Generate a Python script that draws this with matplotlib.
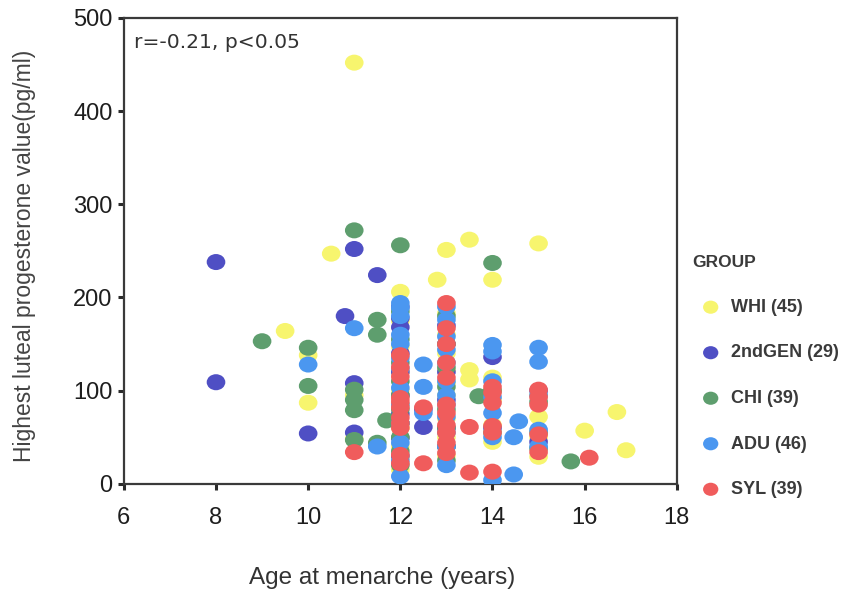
import numpy as np
import matplotlib
matplotlib.use("Agg")
import matplotlib.pyplot as plt
from matplotlib.path import Path
from matplotlib.transforms import Affine2D

plt.rcParams['font.family'] = ['Liberation Sans', 'DejaVu Sans']

groups = ["WHI (45)", "2ndGEN (29)", "CHI (39)", "ADU (46)", "SYL (39)"]
colors = ["#f7f56e", "#4f4fc4", "#5e9e6e", "#4b97f0", "#f05c5c"]

whi_x = [11, 10.5, 9.5, 10, 10, 13, 13.5, 12.8, 14, 15, 12, 12, 13, 13, 13, 13.5, 13.5, 14, 14, 14,
         15, 15, 16, 16.7, 16.9,
         12, 12, 12, 12, 12, 12, 13, 13, 13, 13, 13, 12, 14, 14, 15, 15, 11, 11, 12, 13]
whi_y = [452, 247, 164, 138, 87, 251, 262, 219, 219, 258, 206, 147, 183, 122, 95, 122, 112, 114, 63, 45,
         72, 29, 57, 77, 36,
         100, 85, 60, 40, 120, 175, 140, 160, 70, 50, 30, 28, 100, 90, 95, 50, 95, 48, 15, 108]

gen_x = [8, 8, 10, 11, 11.5, 10.8, 11, 11, 12, 12, 12, 12.5, 14,
         12, 12, 12, 12, 12, 12, 13, 13, 13, 13, 13, 13, 14, 15, 15, 12.5]
gen_y = [238, 109, 54, 252, 224, 180, 108, 55, 178, 168, 49, 61, 136,
         120, 95, 75, 30, 190, 140, 170, 150, 90, 60, 40, 120, 60, 45, 100, 80]

chi_x = [11, 12, 11.5, 11.5, 9, 10, 10, 11, 11, 11, 11, 11.5, 11.7, 12, 13, 13.7, 14, 15, 15.7,
         12, 12, 12, 12, 12, 12, 12, 12, 13, 13, 13, 13, 13, 13, 13, 14, 14, 15, 15, 12]
chi_y = [272, 256, 176, 160, 153, 146, 105, 101, 90, 79, 47, 44, 68, 155, 104, 94, 237, 88, 24,
         130, 110, 95, 80, 65, 50, 35, 20, 180, 150, 125, 80, 60, 40, 25, 100, 55, 55, 38, 185]

adu_x = [10, 11, 11.5, 12, 12, 12, 12, 12, 12, 12.5, 12.5, 12.5, 13, 13, 13, 13, 13, 13,
         14, 14, 14, 14, 14, 14, 14.57, 14.46, 14.46, 15, 15, 15, 15,
         12, 12, 12, 12, 12, 12, 13, 13, 13, 13, 13, 13, 15, 14, 12]
adu_y = [128, 167, 40, 194, 189, 124, 103, 44, 8, 128, 104, 76, 176, 158, 144, 72, 55, 20,
         149, 142, 93, 76, 50, 4, 67, 50, 10, 146, 131, 58, 40,
         180, 160, 135, 85, 65, 25, 130, 110, 95, 85, 40, 190, 95, 110, 150]

syl_x = [11, 12, 12, 12, 12, 12, 12, 12, 12, 12.5, 12.5, 13, 13, 13, 13, 13, 13, 13, 13, 13,
         13.5, 13.5, 14, 14, 14, 14, 14, 15, 15, 15, 15, 15, 16.1,
         12, 12, 13, 13, 12, 14]
syl_y = [34, 138, 115, 92, 82, 71, 60, 31, 22, 82, 22, 194, 167, 130, 114, 85, 76, 63, 44, 33,
         61, 12, 104, 98, 87, 55, 13, 101, 93, 85, 53, 34, 28,
         88, 65, 55, 150, 125, 62]

xs = [whi_x, gen_x, chi_x, adu_x, syl_x]
ys = [whi_y, gen_y, chi_y, adu_y, syl_y]

# slightly wide ellipse marker
circ = Path.unit_circle()
ell = Path(Affine2D().scale(1.0, 0.86).transform(circ.vertices), circ.codes)

fig = plt.figure(figsize=(8.6, 5.98), dpi=100)
ax = fig.add_axes([0.144, 0.191, 0.643, 0.779])

handles = []
for x, y, c, g in zip(xs, ys, colors, groups):
    h = ax.scatter(x, y, s=180, marker=ell, color=c, edgecolors='none', label=g, zorder=3)
    handles.append(h)

ax.set_xlim(6, 18)
ax.set_ylim(0, 500)
ax.set_xticks([6, 8, 10, 12, 14, 16, 18])
ax.set_yticks([0, 100, 200, 300, 400, 500])

for sp in ax.spines.values():
    sp.set_color('#3a3a3a')
    sp.set_linewidth(1.6)
ax.tick_params(axis='both', direction='out', length=4, width=2.2, color='#2a2a2a',
               labelsize=17, labelcolor='#1e1e1e')
ax.tick_params(axis='x', pad=13)
ax.tick_params(axis='y', pad=4)

ax.set_xlabel("Age at menarche (years)", fontsize=17.5, color='#333333')
ax.xaxis.set_label_coords(0.467, -0.178)
ax.set_ylabel("Highest luteal progesterone value(pg/ml)", fontsize=16.5, color='#444444')
ax.yaxis.set_label_coords(-0.158, 0.49)

ax.text(0.018, 0.968, "r=-0.21, p<0.05", transform=ax.transAxes, fontsize=14.6,
        family='DejaVu Sans', color='#333333', va='top', ha='left')

leg = ax.legend(handles=handles, title="GROUP", loc='upper left',
                bbox_to_anchor=(0.797, 0.585), bbox_transform=fig.transFigure,
                frameon=False, labelspacing=1.58, handletextpad=0.12, markerscale=0.82,
                borderaxespad=0, alignment='left', fontsize=13,
                title_fontproperties={'size': 12.5, 'weight': 'bold'})
for t in leg.get_texts():
    t.set_fontweight('bold')
    t.set_color('#3a3a3a')
leg.get_title().set_color('#3a3a3a')

fig.savefig("out.png", dpi=100, facecolor='white')
